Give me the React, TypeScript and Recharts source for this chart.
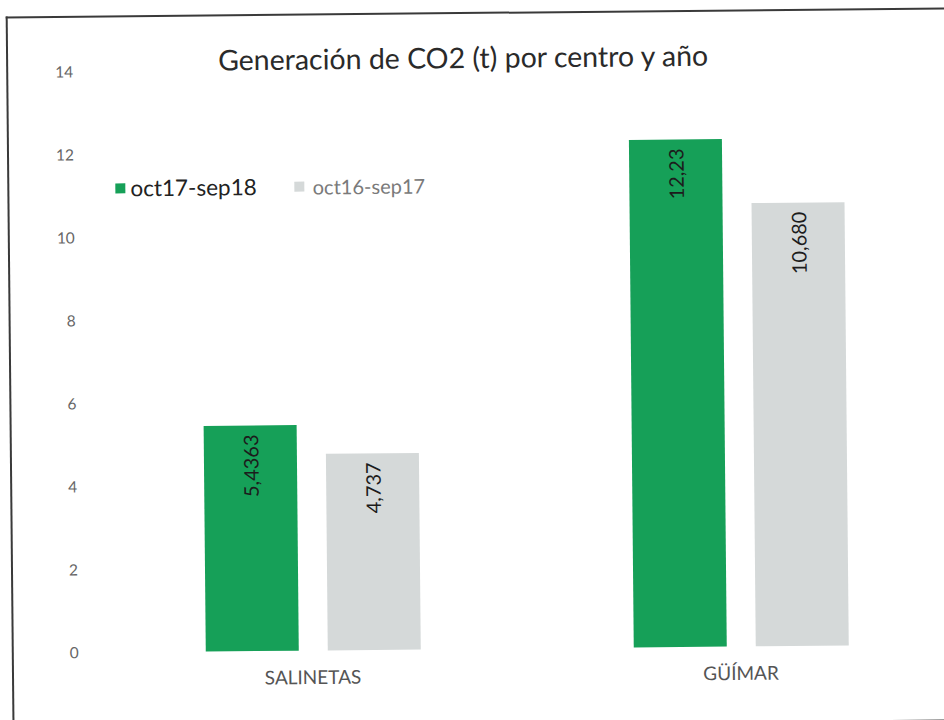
import React from 'react';
import { BarChart, Bar, XAxis, YAxis, LabelList } from 'recharts';

const categories = ['SALINETAS', 'GÜÍMAR'];
const seriesNames = ['oct17-sep18', 'oct16-sep17'];
const values1718 = [5.4363, 12.23];
const values1617 = [4.737, 10.68];
const labels1718 = ['5,4363', '12,23'];
const labels1617 = ['4,737', '10,680'];
const yTicks = [0, 2, 4, 6, 8, 10, 12, 14];
const title = 'Generación de CO2 (t) por centro y año';

const GREEN = '#16a058';
const GREY = '#d5d9d9';
const FONT = 'Lato, "Open Sans", sans-serif';

const data = categories.map((c, i) => ({
  name: c,
  a: values1718[i],
  b: values1617[i],
  la: labels1718[i],
  lb: labels1617[i],
}));

const BarLabel = (props: any) => {
  const { x, y, width, value } = props;
  const cx = Number(x) + Number(width) / 2;
  const ty = Number(y) + 9;
  return (
    <text
      x={cx}
      y={ty}
      transform={`rotate(-90 ${cx} ${ty})`}
      textAnchor="end"
      dominantBaseline="central"
      fontFamily={FONT}
      fontSize={20}
      fill="#1c1c1c"
    >
      {value}
    </text>
  );
};

const LegendBox = () => (
  <div
    style={{
      position: 'absolute',
      top: 171,
      left: 117,
      display: 'flex',
      alignItems: 'center',
      fontFamily: FONT,
      whiteSpace: 'nowrap',
    }}
  >
    <span style={{ display: 'inline-block', width: 10, height: 10, background: GREEN, marginRight: 5 }} />
    <span style={{ fontSize: 22.5, color: '#222' }}>{seriesNames[0]}</span>
    <span style={{ display: 'inline-block', width: 10, height: 10, background: GREY, marginLeft: 38, marginRight: 8 }} />
    <span style={{ fontSize: 20, color: '#7a7a7a' }}>{seriesNames[1]}</span>
  </div>
);

export default function App() {
  return (
    <div
      style={{
        position: 'absolute',
        left: 0,
        top: 0,
        width: 944,
        height: 720,
        overflow: 'hidden',
        background: '#fff',
      }}
    >
      <div
        style={{
          position: 'absolute',
          left: 0,
          top: 0,
          width: 960,
          height: 720,
          transform: 'rotate(-0.55deg)',
          transformOrigin: '472px 360px',
        }}
      >
        <div
          style={{
            position: 'absolute',
            left: 9,
            top: 12,
            width: 980,
            height: 710,
            borderTop: '2px solid #3a3a3a',
            borderLeft: '2px solid #3a3a3a',
            borderBottom: '2px solid #3a3a3a',
          }}
        />
        <div
          style={{
            position: 'absolute',
            left: 0,
            width: 932,
            top: 39,
            textAlign: 'center',
            fontFamily: FONT,
            fontSize: 28.5,
            color: '#2a2a2a',
            lineHeight: '36px',
          }}
        >
          {title}
        </div>
        <BarChart
          width={960}
          height={720}
          data={data}
          margin={{ top: 68, right: 8, bottom: 0, left: 36 }}
          barSize={93}
          barGap={29}
        >
          <XAxis
            dataKey="name"
            axisLine={false}
            tickLine={false}
            height={71}
            tickMargin={14}
            tick={{ fill: '#555', fontSize: 19, fontFamily: FONT }}
          />
          <YAxis
            width={60}
            domain={[0, 14]}
            ticks={yTicks}
            axisLine={false}
            tickLine={false}
            tickMargin={14}
            tick={{ fill: '#666', fontSize: 15.5, fontFamily: FONT }}
          />
          <Bar dataKey="a" name={seriesNames[0]} fill={GREEN} isAnimationActive={false}>
            <LabelList dataKey="la" content={BarLabel} />
          </Bar>
          <Bar dataKey="b" name={seriesNames[1]} fill={GREY} isAnimationActive={false}>
            <LabelList dataKey="lb" content={BarLabel} />
          </Bar>
        </BarChart>
        <LegendBox />
      </div>
    </div>
  );
}
